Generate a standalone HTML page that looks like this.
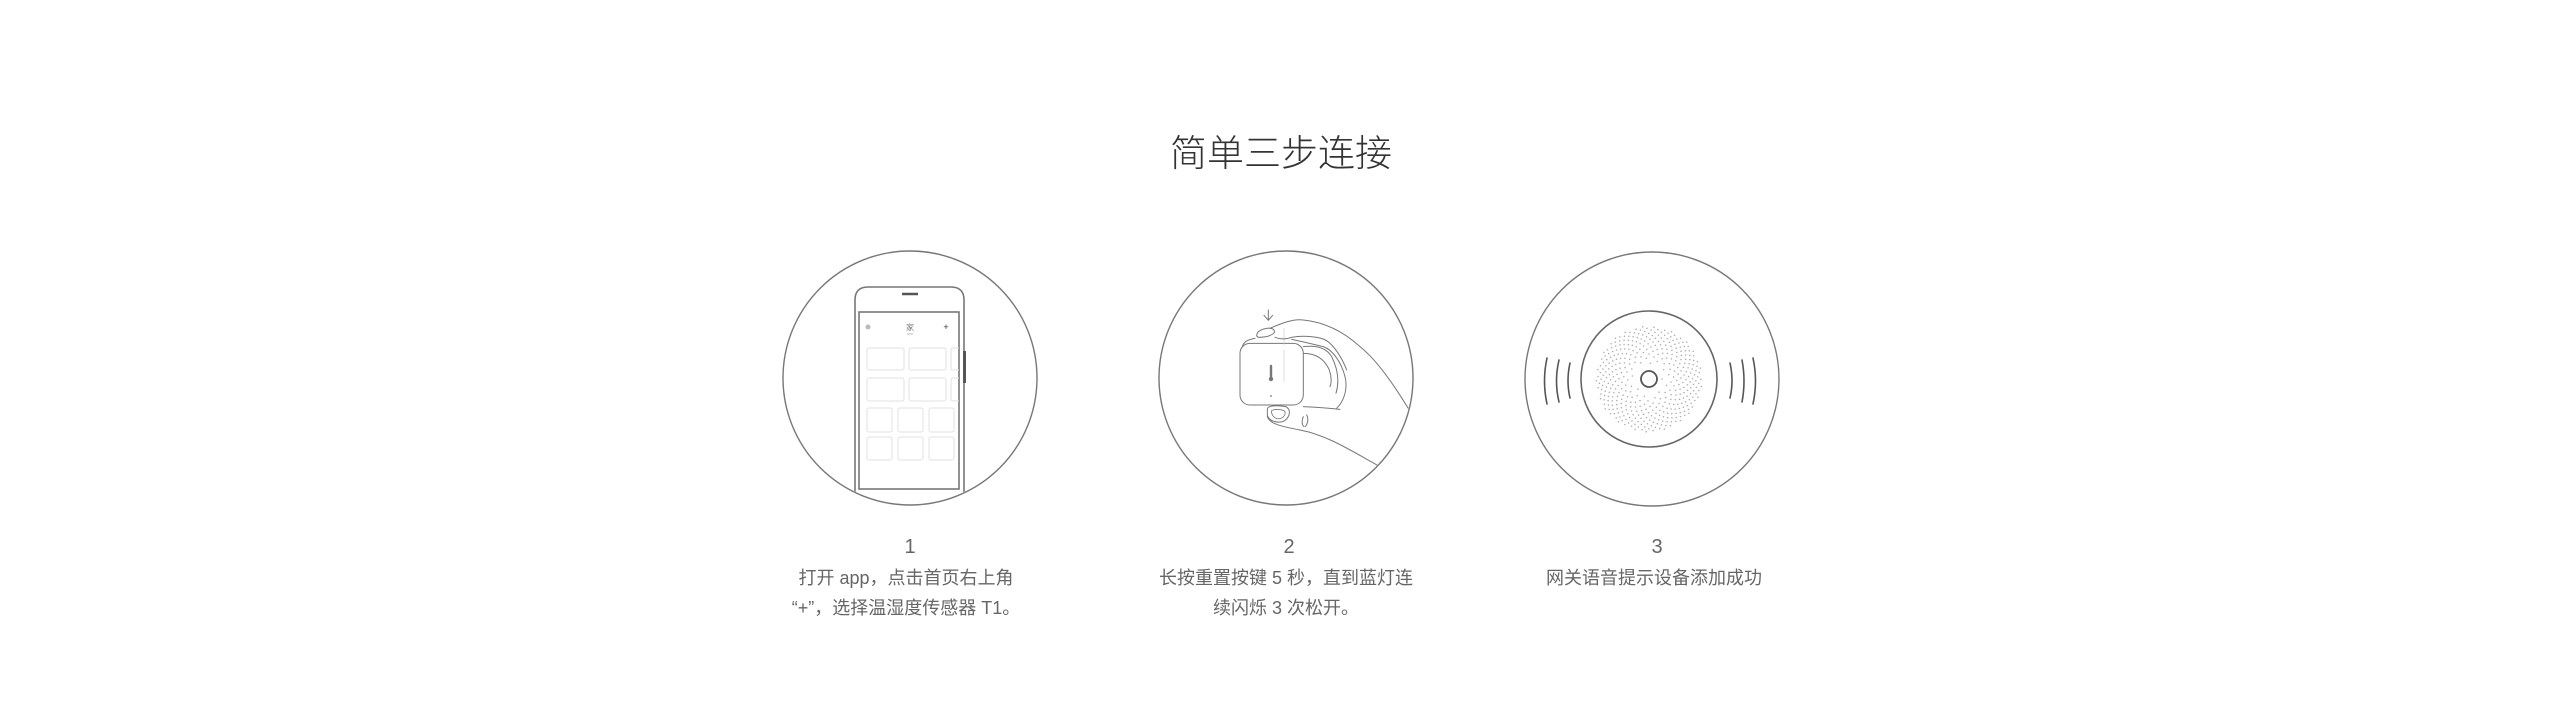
<!DOCTYPE html>
<html><head><meta charset="utf-8">
<style>
html,body{margin:0;padding:0;background:#fff;}
body{width:2560px;height:721px;overflow:hidden;position:relative;}
svg{position:absolute;left:0;top:0;}
text{font-family:"Liberation Sans","Noto Sans CJK SC",sans-serif;}
</style></head><body>
<svg width="2560" height="721" viewBox="0 0 2560 721" xmlns="http://www.w3.org/2000/svg">
<defs>
<clipPath id="c1"><circle cx="910" cy="378" r="126"/></clipPath>
<clipPath id="c2"><circle cx="1286" cy="378" r="126"/></clipPath>
</defs>
<text x="1281" y="166" text-anchor="middle" font-size="37" fill="#333" font-weight="300" style="font-family:'Noto Sans CJK SC',sans-serif">简单三步连接</text>

<!-- circle 1 -->
<circle cx="910" cy="378" r="127" fill="none" stroke="#777" stroke-width="1.4"/>
<g clip-path="url(#c1)" fill="none" stroke="#777" stroke-width="1.6">
<path d="M855,520 L855,300 Q855,287 868,287 L951,287 Q964,287 964,300 L964,520"/>
<rect x="859" y="312" width="100" height="177"/>
<line x1="902" y1="294" x2="918" y2="294" stroke="#555" stroke-width="2.5"/>
<rect x="963" y="351" width="3" height="32" fill="#555" stroke="none"/>
</g>
<g fill="none" stroke="#e2e2e2" stroke-width="1">
<rect x="867" y="348" width="37" height="22" rx="2"/><rect x="909" y="348" width="37" height="22" rx="2"/><path d="M959,348 L953,348 Q951,348 951,350 L951,368 Q951,370 953,370 L959,370"/>
<rect x="867" y="378" width="37" height="23" rx="2"/><rect x="909" y="378" width="37" height="23" rx="2"/><path d="M959,378 L953,378 Q951,378 951,380 L951,399 Q951,401 953,401 L959,401"/>
<rect x="867" y="408" width="25" height="24" rx="2"/><rect x="898" y="408" width="25" height="24" rx="2"/><rect x="929" y="408" width="25" height="24" rx="2"/>
<rect x="867" y="437" width="25" height="23" rx="2"/><rect x="898" y="437" width="25" height="23" rx="2"/><rect x="929" y="437" width="25" height="23" rx="2"/>
</g>
<circle cx="868" cy="327" r="2.5" fill="#bbb"/>
<text x="910" y="330" text-anchor="middle" font-size="8" fill="#777">家</text>
<line x1="907" y1="334" x2="913" y2="334" stroke="#bbb"/>
<text x="946" y="330" text-anchor="middle" font-size="9" fill="#333">+</text>

<!-- circle 2 -->
<circle cx="1286" cy="378" r="127" fill="none" stroke="#777" stroke-width="1.4"/>
<g clip-path="url(#c2)">
<g transform="translate(1160,250) scale(0.3333)" fill="none" stroke="#777" stroke-width="3" stroke-linecap="round" stroke-linejoin="round">
<path d="M325,180 L325,210 M312,196 L325,211 L338,196"/>
<rect x="240" y="280" width="190" height="185" rx="30"/>
<path d="M372,235 L372,285 M372,300 L372,395" stroke="#ccc" stroke-width="2"/>
<path d="M290,258 Q290,240 320,235 Q345,232 343,248 Q330,262 295,262 Z"/>
<path d="M330,235 C360,222 400,205 430,210 C480,215 540,235 600,290 C650,330 700,400 760,500"/>
<path d="M285,265 C265,268 250,276 247,290"/>
<path d="M345,262 C360,268 380,268 395,262 C430,255 480,260 500,272"/>
<path d="M395,268 C430,275 470,285 490,290 C520,300 545,340 555,380 C565,420 550,455 530,475"/>
<path d="M430,290 C470,285 500,295 515,320 C530,350 540,390 528,430"/>
<path d="M430,310 C470,310 495,330 508,360 C515,380 515,400 510,410"/>
<path d="M500,272 C520,285 545,320 560,360"/>
<path d="M430,470 C470,472 520,476 540,478"/>
<path d="M322,478 C322,468 345,464 378,470 C395,480 390,505 368,515 C345,520 325,510 322,495 Z"/>
<path d="M335,482 C345,476 370,478 375,485 C378,498 365,508 350,506 C338,500 333,490 335,482 Z" stroke-width="2.5"/>
<path d="M322,500 C330,525 380,532 420,540 C500,555 570,600 660,650"/>
<path d="M430,500 C425,510 425,525 432,530 M440,495 C446,505 444,520 436,530"/>
</g>
<path d="M1271,366 L1271,378" stroke="#777" stroke-width="2.4" stroke-linecap="round"/>
<circle cx="1271" cy="379" r="2.2" fill="#777"/>
<circle cx="1271" cy="396" r="0.9" fill="#777"/>
</g>

<!-- circle 3 -->
<circle cx="1652" cy="379" r="127" fill="none" stroke="#777" stroke-width="1.4"/>
<circle cx="1649" cy="379" r="68" fill="none" stroke="#666" stroke-width="1.6"/>
<circle cx="1649" cy="379" r="8" fill="none" stroke="#555" stroke-width="1.8"/>
<g id="dots" fill="#aaa"></g>
<g fill="none" stroke="#555" stroke-width="1.6" stroke-linecap="round">
<path d="M1547,358 Q1542,381 1547,404"/>
<path d="M1559,360 Q1554,381 1559,402"/>
<path d="M1570,363 Q1566,381 1570,398"/>
<path d="M1730,363 Q1734,381 1730,398"/>
<path d="M1742,360 Q1746,381 1742,402"/>
<path d="M1753,358 Q1758,381 1753,404"/>
</g>

<!-- captions -->
<g fill="#666" text-anchor="middle" font-size="18">
<text x="910" y="553" font-size="20">1</text>
<text x="906" y="584">打开 app，点击首页右上角</text>
<text x="906" y="614">“+”，选择温湿度传感器 T1。</text>
<text x="1289" y="553" font-size="20">2</text>
<text x="1286" y="584">长按重置按键 5 秒，直到蓝灯连</text>
<text x="1286" y="614">续闪烁 3 次松开。</text>
<text x="1657" y="553" font-size="20">3</text>
<text x="1654" y="584">网关语音提示设备添加成功</text>
</g>
</svg>
<script>
(function(){var g=document.getElementById('dots'),ns='http://www.w3.org/2000/svg',n=400,ga=Math.PI*(3-Math.sqrt(5));
for(var i=0;i<n;i++){var r=13+40*Math.sqrt(i/n),a=i*ga;var c=document.createElementNS(ns,'circle');
c.setAttribute('cx',(1649+r*Math.cos(a)).toFixed(1));c.setAttribute('cy',(379+r*Math.sin(a)).toFixed(1));c.setAttribute('r','0.75');g.appendChild(c);}})();
</script>
</body></html>
